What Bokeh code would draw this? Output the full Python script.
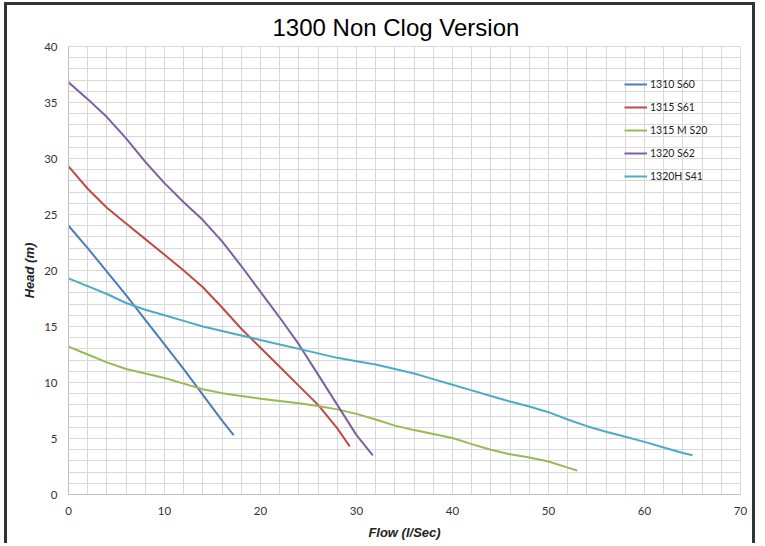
from bokeh.plotting import figure
from bokeh.embed import file_html
from bokeh.resources import INLINE
from bokeh.models import FixedTicker, Legend, LegendItem, Range1d

title_text = "1300 Non Clog Version"
x_label = "Flow (l/Sec)"
y_label = "Head (m)"

s60_x = [0, 2, 4, 6, 8, 10, 12, 14, 16, 17.2]
s60_y = [24.0, 22.0, 19.9, 17.8, 15.6, 13.4, 11.2, 8.9, 6.6, 5.3]

s61_x = [0, 2, 4, 6, 8, 10, 12, 14, 16, 18, 20, 22, 24, 26, 28, 29.3]
s61_y = [29.3, 27.3, 25.6, 24.2, 22.8, 21.4, 20.0, 18.5, 16.7, 14.8, 13.1, 11.4, 9.7, 8.0, 5.9, 4.3]

s20_x = [0, 2, 4, 6, 8, 10, 12, 14, 16, 18, 20, 22, 24, 26, 28, 30, 32, 34, 36, 38, 40, 42, 44, 46, 48, 50, 52, 53]
s20_y = [13.2, 12.5, 11.8, 11.2, 10.8, 10.4, 9.9, 9.4, 9.05, 8.8, 8.55, 8.35, 8.15, 7.9, 7.6, 7.2, 6.7, 6.15, 5.75, 5.4, 5.05, 4.5, 4.0, 3.6, 3.3, 2.95, 2.4, 2.15]

s62_x = [0, 2, 4, 6, 8, 10, 12, 14, 16, 18, 20, 22, 24, 26, 28, 30, 31.7]
s62_y = [36.8, 35.3, 33.7, 31.8, 29.7, 27.8, 26.1, 24.5, 22.6, 20.4, 18.1, 15.8, 13.4, 10.7, 8.0, 5.3, 3.5]

s41_x = [0, 2, 4, 6, 8, 10, 12, 14, 16, 18, 20, 22, 24, 26, 28, 30, 32, 34, 36, 38, 40, 42, 44, 46, 48, 50, 52, 54, 56, 58, 60, 62, 64, 65]
s41_y = [19.3, 18.6, 17.9, 17.1, 16.5, 16.0, 15.5, 15.0, 14.6, 14.2, 13.8, 13.4, 13.0, 12.6, 12.2, 11.9, 11.6, 11.2, 10.8, 10.3, 9.8, 9.3, 8.8, 8.3, 7.85, 7.35, 6.7, 6.1, 5.6, 5.15, 4.7, 4.2, 3.7, 3.5]

series_names = ["1310 S60", "1315 S61", "1315 M S20", "1320 S62", "1320H S41"]
series_colors = ["#4a7ebb", "#be4b48", "#98b954", "#7d60a0", "#4bacc6"]
series_x = [s60_x, s61_x, s20_x, s62_x, s41_x]
series_y = [s60_y, s61_y, s20_y, s62_y, s41_y]

x_major = [0, 10, 20, 30, 40, 50, 60, 70]
x_minor = list(range(0, 71, 2))
y_major = [0, 5, 10, 15, 20, 25, 30, 35, 40]
y_minor = list(range(0, 41, 1))

p = figure(width=751, height=541, output_backend="svg", toolbar_location=None,
           x_range=Range1d(0, 70), y_range=Range1d(0, 40),
           min_border_left=61, min_border_right=18, min_border_top=41, min_border_bottom=52)

p.title.text = title_text
p.title.align = "left"
p.title.offset = 204
p.title.standoff = 12
p.title.text_font = "Liberation Sans"
p.title.text_font_size = "24px"
p.title.text_font_style = "normal"
p.title.text_color = "#000000"

p.styles = {"border-left": "3px solid #333333", "border-top": "3px solid #333333",
            "border-right": "3px solid #333333", "margin-left": "4px", "margin-top": "2px"}

grid_color = "#d9d9d9"
for ax, major, minor in ((p.xaxis[0], x_major, x_minor), (p.yaxis[0], y_major, y_minor)):
    ax.ticker = FixedTicker(ticks=major, minor_ticks=minor)
    ax.major_tick_line_color = None
    ax.minor_tick_line_color = None
    ax.major_tick_out = 0
    ax.minor_tick_out = 0
    ax.axis_line_color = "#bfbfbf"
    ax.major_label_text_font = "Lato"
    ax.major_label_text_font_size = "11.5px"
    ax.major_label_text_color = "#333333"
    ax.axis_label_text_font = "Liberation Sans"
    ax.axis_label_text_font_style = "bold italic"
    ax.axis_label_text_font_size = "13px"
    ax.axis_label_text_color = "#222222"

p.xaxis.axis_label = x_label
p.yaxis.axis_label = y_label
p.xaxis.major_label_standoff = 12
p.yaxis.major_label_standoff = 11
p.xaxis.axis_label_standoff = 7
p.yaxis.axis_label_standoff = 4

for g in (p.xgrid[0], p.ygrid[0]):
    g.grid_line_color = grid_color
    g.minor_grid_line_color = grid_color
    g.grid_line_width = 1
    g.minor_grid_line_width = 1

p.outline_line_color = grid_color

items = []
for name, color, xs, ys in zip(series_names, series_colors, series_x, series_y):
    r = p.line(xs, ys, line_color=color, line_width=2)
    items.append(LegendItem(label=name, renderers=[r]))

legend = Legend(items=items, location=(556, 312), padding=0, margin=0,
                glyph_width=23, glyph_height=12, label_height=12, spacing=11,
                label_standoff=3, label_text_font="Lato", label_text_font_size="10.5px",
                label_text_color="#222222", background_fill_alpha=0, border_line_alpha=0)
p.add_layout(legend, "center")

open("out.html", "w").write(file_html(p, INLINE))
